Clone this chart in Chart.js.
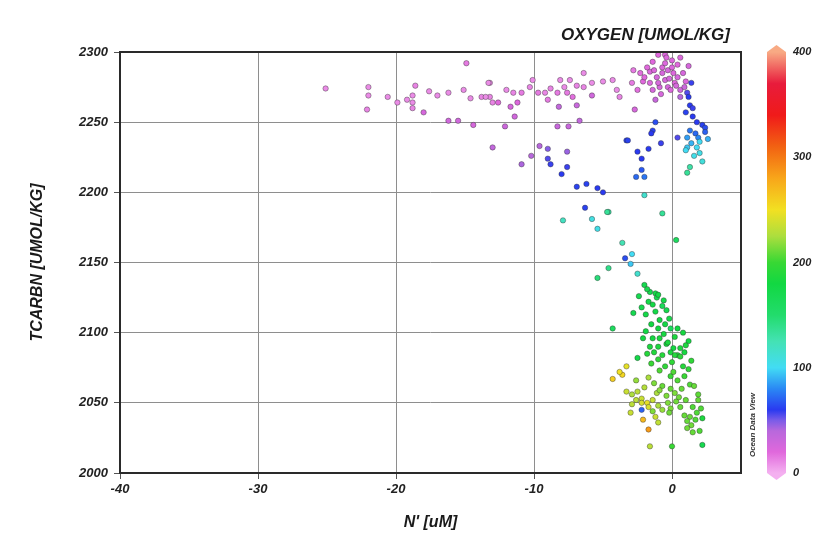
<!DOCTYPE html>
<html lang="en">
<head>
<meta charset="UTF-8">
<title>TCARBN vs N'</title>
<script src="https://cdn.jsdelivr.net/npm/chart.js@4/dist/chart.umd.min.js"></script>
<style>
  body { margin: 0; background: #fff; }
  #wrap { width: 825px; height: 542px; }
</style>
</head>
<body>
<div id="wrap"><canvas id="odv" width="825" height="542"></canvas></div>
<script>
// station samples: N' (uM), total carbon (umol/kg), oxygen (umol/kg)
const nPrime = [
  -25.1, -22.0, -22.0, -22.1, -19.9, -19.2, -18.6, -18.8, -18.8, -18.8, -18.0, -17.0, -16.2, -15.1, -14.9, -14.6,
  -13.8, -13.2, -13.2, -13.0, -16.2, -15.5, -14.4, -13.0, -13.3, -12.6, -13.5, -11.7, -11.2, -11.4, -12.1, -11.5,
  -10.9, -10.3, -10.1, -9.7, -9.2, -8.8, -8.1, -7.8, -7.4, -6.9, -6.4, -6.4, -5.8, -8.3, -7.6, -7.2,
  -5.8, -5.0, -4.3, -8.2, -6.9, -6.7, -8.3, -7.5, -4.0, -3.8, -12.0, -9.0, -17.6, -20.6,
  -9.6, -9.0, -7.6, -10.2, -10.9, -9.0, -8.8, -7.6, -8.0, -6.9, -6.2, -5.4, -5.0, -6.3, -7.9, -5.8,
  -5.4, -4.6, -3.3,
  -2.8, -2.9, -2.5, -2.1, -1.6, -1.4, -1.0, -0.5, 0.0, 0.6, -1.1, -0.7, -0.5, -0.3, 0.1, 0.4,
  0.8, 0.2, -0.3, -0.9, -1.4, -1.6, -1.2, -0.1, 0.6, -0.7, 0.0, 0.4, -1.8, -2.3, -2.7, -0.5,
  -1.0, -0.2, 0.3, 1.0, -0.8, -0.4, 1.2, -2.0, 0.9, -1.3,
  1.4, 1.1, 1.2, 0.6, 1.3, 1.5, 1.0, 1.5, 2.2, 2.4, 1.3, 1.7, 1.9, 1.1, 2.0, 1.4,
  1.1, 1.8, 0.4, 2.0, 1.0, 2.2, 1.3, 1.1, 1.8, 2.4, 2.6, 1.6,
  -1.2, -1.4, -1.5, -3.2, -0.8, -1.7, -2.5, -2.2, -2.2, -2.0, -2.6, -2.0, -0.7, -4.7,
  -3.6, -2.9, -3.4, -3.0, -2.5, -4.6, -5.4, 0.3, -2.0, -1.6, -1.2, -1.1, -1.7, -2.2, -1.4, -0.7,
  -2.8, -1.2, -0.9, -0.2, -0.1, 0.4, -4.3, -1.0, -2.1, -1.4, -0.9, -1.6, -1.0, -0.4, 0.1, 0.6,
  -0.1, 0.4, 0.9,
  -1.8, -1.0, -2.4, -0.6, -1.9, -0.4, -1.5, -0.5, 0.8, -0.6, 0.2, 1.2, -1.9, -0.3, 1.0, -1.3,
  -0.7, 1.4, 0.0, -1.5,
  0.2, 0.6, -2.5, -1.0, -3.3, -3.6, -4.3, -1.7, -0.9, -0.1, 0.4, 0.9, 1.3, 1.6, -0.7, -0.1,
  0.2, -0.4, -2.9, -2.2, -1.8, -1.4, -2.9, -2.2, -1.7, -1.0, -2.2, -1.4, -0.7, -0.1, 0.6, 1.5,
  1.8, 1.3, 1.1, 1.4, 1.1, 2.2, -1.7, -2.1, -1.6, 0.0, 2.2,
  -2.5, -2.0, -3.3, -1.1, 1.9, 2.1, 1.0, 0.3, -0.3, -1.2, 0.8, 1.2, -0.5, -1.8,
  -2.6, -1.3, 0.1, 0.7, 1.9, -0.2, 0.9, 1.7, 2.0, 1.5, -2.6, -3.0, -1.0, 0.5, -0.9, -3.8
];
const tcarbn = [
  2274, 2275, 2269, 2259, 2264, 2266, 2276, 2269, 2264, 2260, 2257, 2269, 2271, 2273, 2292, 2267,
  2268, 2278, 2268, 2264, 2251, 2251, 2248, 2232, 2278, 2264, 2268, 2261, 2264, 2254, 2247, 2271,
  2271, 2275, 2280, 2271, 2271, 2274, 2280, 2275, 2280, 2276, 2285, 2275, 2278, 2271, 2271, 2268,
  2269, 2279, 2280, 2261, 2262, 2251, 2247, 2247, 2273, 2268, 2273, 2266, 2272, 2268,
  2233, 2231, 2229, 2226, 2220, 2224, 2220, 2218, 2213, 2204, 2206, 2203, 2200, 2189, 2180, 2181,
  2174, 2186, 2237,
  2287, 2278, 2273, 2279, 2286, 2293, 2298, 2298, 2294, 2296, 2282, 2285, 2280, 2287, 2285, 2282,
  2285, 2278, 2275, 2275, 2273, 2278, 2266, 2273, 2273, 2289, 2289, 2291, 2289, 2285, 2259, 2292,
  2278, 2281, 2276, 2279, 2270, 2296, 2290, 2282, 2275, 2287,
  2278, 2271, 2268, 2268, 2262, 2260, 2257, 2254, 2248, 2246, 2244, 2242, 2239, 2239, 2236, 2235,
  2232, 2232, 2239, 2228, 2230, 2222, 2218, 2214, 2250, 2243, 2238, 2226,
  2250, 2244, 2242, 2237, 2235, 2231, 2229, 2224, 2216, 2211, 2211, 2198, 2185, 2186,
  2164, 2156, 2153, 2149, 2142, 2146, 2139, 2166, 2134, 2129, 2128, 2125, 2122, 2118, 2120, 2119,
  2114, 2115, 2109, 2110, 2103, 2103, 2103, 2103, 2096, 2096, 2096, 2090, 2090, 2092, 2089, 2089,
  2086, 2084, 2086,
  2131, 2127, 2126, 2123, 2113, 2116, 2106, 2106, 2100, 2099, 2097, 2094, 2101, 2093, 2091, 2086,
  2084, 2080, 2079, 2078,
  2084, 2083, 2082, 2081, 2076, 2070, 2067, 2068, 2073, 2069, 2066, 2069, 2063, 2062, 2062, 2060,
  2057, 2055, 2056, 2053, 2050, 2052, 2049, 2050, 2047, 2048, 2045, 2044, 2045, 2046, 2047, 2047,
  2043, 2040, 2037, 2034, 2032, 2039, 2031, 2038, 2019, 2019, 2020,
  2058, 2061, 2058, 2057, 2052, 2046, 2052, 2051, 2050, 2040, 2076, 2074, 2076, 2085,
  2066, 2064, 2072, 2060, 2056, 2043, 2041, 2038, 2030, 2029, 2052, 2043, 2036, 2054, 2059, 2072
];
const oxygen = [
  10, 10, 10, 12, 10, 10, 12, 10, 10, 12, 25, 10, 10, 10, 15, 10,
  12, 10, 12, 12, 28, 28, 25, 35, 10, 20, 10, 25, 22, 28, 30, 12,
  15, 12, 10, 15, 12, 12, 10, 10, 10, 12, 10, 12, 10, 15, 15, 18,
  28, 10, 10, 35, 32, 35, 32, 32, 10, 12, 10, 15, 10, 10,
  40, 48, 45, 40, 42, 55, 58, 58, 60, 62, 62, 60, 60, 62, 120, 108,
  105, 130, 62,
  15, 15, 18, 20, 22, 20, 20, 22, 22, 22, 25, 25, 25, 25, 22, 25,
  25, 20, 25, 25, 25, 22, 32, 22, 28, 22, 22, 20, 20, 18, 25, 22,
  25, 25, 25, 22, 25, 22, 25, 20, 30, 22,
  58, 55, 60, 40, 60, 58, 62, 60, 62, 65, 75, 72, 80, 85, 100, 90,
  95, 100, 55, 105, 100, 110, 130, 135, 60, 70, 90, 105,
  65, 62, 60, 62, 58, 60, 60, 60, 68, 75, 72, 115, 135, 135,
  125, 100, 65, 95, 115, 140, 145, 160, 170, 172, 175, 170, 175, 172, 178, 165,
  170, 175, 178, 175, 160, 180, 160, 180, 180, 182, 185, 185, 185, 182, 180, 185,
  185, 188, 182,
  172, 178, 170, 175, 175, 172, 180, 178, 182, 182, 185, 180, 178, 185, 185, 188,
  190, 195, 195, 200,
  190, 192, 175, 195, 245, 255, 260, 225, 205, 200, 205, 200, 205, 210, 210, 210,
  215, 215, 225, 235, 245, 235, 230, 240, 240, 225, 70, 215, 220, 215, 210, 205,
  205, 210, 210, 212, 212, 185, 285, 270, 230, 200, 170,
  230, 228, 235, 225, 210, 205, 210, 212, 215, 235, 190, 195, 195, 190,
  220, 215, 205, 210, 208, 212, 210, 205, 205, 210, 230, 235, 232, 212, 218, 250
];
const xTicks = [-40, -30, -20, -10, 0];
const yTicks = [2000, 2050, 2100, 2150, 2200, 2250, 2300];
const colorbarTicks = [0, 100, 200, 300, 400];

// oxygen colour palette, value -> colour
const palette = [
  [0, '#f4b0f0'], [20, '#e068dc'], [40, '#b868dc'], [50, '#7a5ce8'], [60, '#2a3af0'],
  [80, '#2a88f4'], [100, '#42dcf4'], [125, '#44e2b4'], [150, '#22dc6c'], [180, '#12d842'],
  [200, '#38d834'], [225, '#acde3e'], [250, '#f2e022'], [280, '#f8a61a'], [310, '#f26212'],
  [340, '#f01a1a'], [370, '#e81c3c'], [400, '#f8aa84']
];

function hexRgb(h) {
  return [parseInt(h.slice(1, 3), 16), parseInt(h.slice(3, 5), 16), parseInt(h.slice(5, 7), 16)];
}

function colourFor(v) {
  for (let i = 1; i < palette.length; i++) {
    if (v <= palette[i][0]) {
      const [v0, c0] = palette[i - 1], [v1, c1] = palette[i];
      const t = (v - v0) / (v1 - v0);
      const a = hexRgb(c0), b = hexRgb(c1);
      return 'rgb(' + a.map((x, k) => Math.round(x + (b[k] - x) * t)).join(',') + ')';
    }
  }
  return palette[palette.length - 1][1];
}

const points = nPrime.map((x, i) => ({ x: x, y: tcarbn[i] }));
const fills = oxygen.map(colourFor);

const FONT = "'Liberation Sans', Arial, sans-serif";

// frame, header and oxygen colour bar
const odvDecor = {
  id: 'odvDecor',
  afterDraw(chart) {
    const { ctx, chartArea: a, scales: { y } } = chart;
    ctx.save();
    ctx.strokeStyle = '#2a2a2a';
    ctx.lineWidth = 2;
    ctx.strokeRect(a.left, a.top, a.right - a.left, a.bottom - a.top);

    ctx.fillStyle = '#1a1a1a';
    ctx.font = 'italic bold 17px ' + FONT;
    ctx.textAlign = 'right';
    ctx.textBaseline = 'middle';
    ctx.fillText('OXYGEN [UMOL/KG]', 730, 35);

    // colour bar spans the same height as the plot
    const top = y.getPixelForValue(2300), bot = y.getPixelForValue(2000);
    const bx = 767, bw = 19, tip = 7;
    const grad = ctx.createLinearGradient(0, bot, 0, top);
    palette.forEach(([v, c]) => grad.addColorStop(v / 400, c));
    ctx.beginPath();
    ctx.moveTo(bx, top);
    ctx.lineTo(bx + bw / 2, top - tip);
    ctx.lineTo(bx + bw, top);
    ctx.lineTo(bx + bw, bot);
    ctx.lineTo(bx + bw / 2, bot + tip);
    ctx.lineTo(bx, bot);
    ctx.closePath();
    ctx.fillStyle = grad;
    ctx.filter = 'blur(0.6px)';
    ctx.fill();
    ctx.filter = 'none';

    ctx.fillStyle = '#222';
    ctx.font = 'italic bold 11px ' + FONT;
    ctx.textAlign = 'left';
    colorbarTicks.forEach(v => {
      ctx.fillText(String(v), 793, bot + (top - bot) * v / 400);
    });

    ctx.translate(753, 425);
    ctx.rotate(-Math.PI / 2);
    ctx.font = 'italic bold 8px ' + FONT;
    ctx.textAlign = 'center';
    ctx.fillStyle = '#333';
    ctx.fillText('Ocean Data View', 0, 0);
    ctx.restore();
  }
};

const tickFont = { family: FONT, size: 13, style: 'italic', weight: 'bold' };
const titleFont = { family: FONT, size: 16, style: 'italic', weight: 'bold' };

new Chart(document.getElementById('odv'), {
  type: 'scatter',
  data: {
    datasets: [{
      data: points,
      pointRadius: 2.7,
      pointBackgroundColor: fills,
      pointBorderColor: 'rgba(45,45,45,0.5)',
      pointBorderWidth: 0.8
    }]
  },
  options: {
    responsive: false,
    animation: false,
    layout: { padding: { top: 52, right: 84, left: 0, bottom: 0 } },
    plugins: { legend: { display: false }, tooltip: { enabled: false } },
    scales: {
      x: {
        type: 'linear',
        min: -40,
        max: 5,
        afterBuildTicks: s => { s.ticks = xTicks.map(v => ({ value: v })); },
        afterFit: s => { s.height = 69; },
        grid: { color: '#8e8e8e', lineWidth: 1, tickLength: 6, tickColor: '#555' },
        border: { display: false },
        ticks: { color: '#222', padding: 3, font: tickFont, callback: v => String(v) },
        title: {
          display: true,
          text: "N' [uM]",
          color: '#1a1a1a',
          padding: { top: 0, bottom: 10 },
          font: titleFont
        }
      },
      y: {
        type: 'linear',
        min: 2000,
        max: 2300,
        afterBuildTicks: s => { s.ticks = yTicks.map(v => ({ value: v })); },
        afterFit: s => { s.width = 120; },
        grid: { color: '#8e8e8e', lineWidth: 1, tickLength: 6, tickColor: '#555' },
        border: { display: false },
        ticks: { color: '#222', padding: 6, font: tickFont, callback: v => String(v) },
        title: {
          display: true,
          text: 'TCARBN [UMOL/KG]',
          color: '#1a1a1a',
          padding: { top: 28, bottom: 0 },
          font: titleFont
        }
      }
    }
  },
  plugins: [odvDecor]
});
</script>
</body>
</html>
